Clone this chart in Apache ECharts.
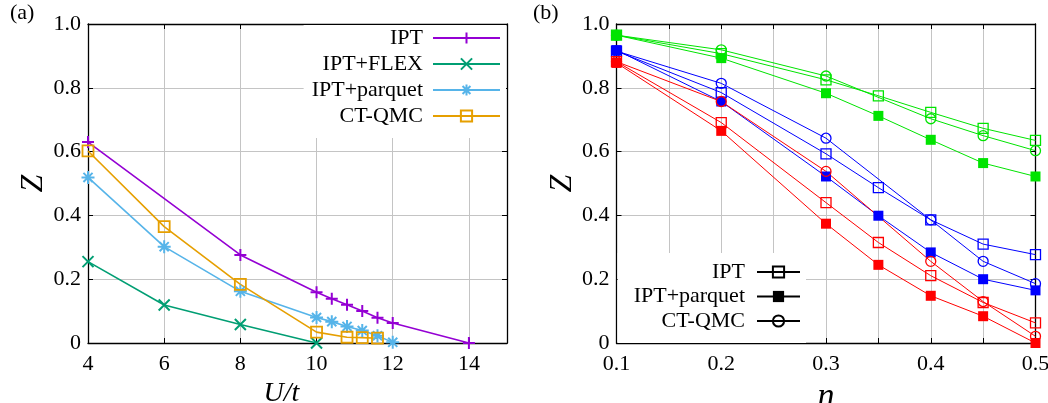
<!DOCTYPE html>
<html>
<head>
<meta charset="utf-8">
<script src="https://cdn.jsdelivr.net/npm/echarts@6/dist/echarts.min.js"></script>
<style>
html, body { margin: 0; padding: 0; background: #fff; }
#chart { width: 1048px; height: 403px; }
</style>
</head>
<body>
<div id="chart"></div>
<script>
// ---- Panel (a): Z versus U/t ----
const uIPT = [4, 8, 10, 10.4, 10.8, 11.2, 11.6, 12, 14];
const zIPT = [0.630, 0.276, 0.159, 0.139, 0.120, 0.100, 0.079, 0.063, 0.0];
const uFLEX = [4, 6, 8, 10];
const zFLEX = [0.255, 0.119, 0.058, 0.0];
const uParquet = [4, 6, 8, 10, 10.4, 10.8, 11.2, 11.6, 12];
const zParquet = [0.519, 0.302, 0.162, 0.080, 0.067, 0.052, 0.039, 0.023, 0.002];
const uQMC = [4, 6, 8, 10, 10.8, 11.2, 11.6];
const zQMC = [0.602, 0.365, 0.184, 0.034, 0.018, 0.017, 0.015];

// ---- Panel (b): Z versus filling n, three parameter sets (green, blue, red) ----
const nGrid = [0.1, 0.2, 0.3, 0.35, 0.4, 0.45, 0.5];
const nQMC = [0.1, 0.2, 0.3, 0.4, 0.45, 0.5];
const greenIPT = [0.965, 0.907, 0.825, 0.775, 0.723, 0.673, 0.635];
const greenParquet = [0.965, 0.893, 0.783, 0.712, 0.637, 0.564, 0.522];
const greenQMC = [0.965, 0.919, 0.837, 0.703, 0.650, 0.603];
const blueIPT = [0.915, 0.785, 0.593, 0.487, 0.386, 0.310, 0.277];
const blueParquet = [0.918, 0.757, 0.522, 0.399, 0.284, 0.200, 0.165];
const blueQMC = [0.915, 0.814, 0.642, 0.386, 0.256, 0.186];
const redIPT = [0.882, 0.691, 0.440, 0.315, 0.211, 0.127, 0.063];
const redParquet = [0.878, 0.665, 0.374, 0.245, 0.148, 0.084, 0.0];
const redQMC = [0.882, 0.757, 0.538, 0.256, 0.130, 0.021];

// tick labels
const zTickLabels = ['0', '0.2', '0.4', '0.6', '0.8', '1.0'];
const uTickLabels = ['4', '6', '8', '10', '12', '14'];
const nTickLabels = ['0.1', '0.2', '0.3', '0.4', '0.5'];

const FONT = 'Liberation Serif';
const GRID_COLOR = '#c4c4c4';
const zip = (xs, ys) => xs.map((x, i) => [x, ys[i]]);

const SYM_PLUS = 'path://M0,5L10,5M5,0L5,10';
const SYM_CROSS = 'path://M0,0L10,10M0,10L10,0';
const SYM_STAR = 'path://M0,5L10,5M5,0L5,10M1.5,1.5L8.5,8.5M1.5,8.5L8.5,1.5';

function labelFrom(list, fmt) {
  return function (v) {
    const s = fmt(v);
    return list.indexOf(s) >= 0 ? s : '';
  };
}
const zFmt = labelFrom(zTickLabels, v => (Math.abs(v) < 1e-9 ? '0' : v.toFixed(1)));
const uFmt = labelFrom(uTickLabels, v => String(Math.round(v * 1000) / 1000));
const nFmt = labelFrom(nTickLabels, v => {
  const k = Math.round(v * 100);
  return k % 10 === 0 ? (k / 100).toFixed(1) : '#';
});

function mainAxis(extra) {
  return Object.assign({
    type: 'value',
    axisLine: { show: true, onZero: false, lineStyle: { color: '#000', width: 1.3 } },
    axisTick: { show: true, inside: true, length: 5, lineStyle: { color: '#000', width: 1 } },
    splitLine: { show: true, lineStyle: { color: GRID_COLOR, width: 1 } },
    axisLabel: { color: '#000', fontFamily: FONT, fontSize: 22 }
  }, extra);
}
function mirrorAxis(extra) {
  return Object.assign({
    type: 'value',
    axisLine: { show: true, onZero: false, lineStyle: { color: '#000', width: 1.3 } },
    axisTick: { show: true, inside: true, length: 5, lineStyle: { color: '#000', width: 1 } },
    splitLine: { show: false },
    axisLabel: { show: false }
  }, extra);
}

// open (stroked) marker series
function openLine(name, data, color, symbol, size, lw, sw, xi, yi) {
  return {
    type: 'line', name, data, xAxisIndex: xi, yAxisIndex: yi,
    symbol, symbolSize: size, clip: false, animation: false,
    lineStyle: { color, width: lw },
    itemStyle: { color: 'rgba(0,0,0,0)', borderColor: color, borderWidth: sw },
    emphasis: { disabled: true }
  };
}
// filled marker series
function filledLine(name, data, color, symbol, size, lw, xi, yi) {
  return {
    type: 'line', name, data, xAxisIndex: xi, yAxisIndex: yi,
    symbol, symbolSize: size, clip: false, animation: false,
    lineStyle: { color, width: lw },
    itemStyle: { color, borderWidth: 0 },
    emphasis: { disabled: true }
  };
}

const GREEN = '#00e400', BLUE = '#0000ff', RED = '#ff0000';
const PURPLE = '#9400d3', TEAL = '#009e73', SKY = '#56b4e9', ORANGE = '#e69f00';

const series = [
  openLine('IPT', zip(uIPT, zIPT), PURPLE, SYM_PLUS, 12, 1.6, 2, 0, 0),
  openLine('IPT+FLEX', zip(uFLEX, zFLEX), TEAL, SYM_CROSS, 11, 1.6, 2, 0, 0),
  openLine('IPT+parquet', zip(uParquet, zParquet), SKY, SYM_STAR, 13, 1.6, 2, 0, 0),
  openLine('CT-QMC', zip(uQMC, zQMC), ORANGE, 'rect', 11, 1.6, 1.8, 0, 0),

  openLine('green IPT', zip(nGrid, greenIPT), GREEN, 'rect', 10, 1, 1.3, 2, 2),
  filledLine('green parquet', zip(nGrid, greenParquet), GREEN, 'rect', 10, 1, 2, 2),
  openLine('green QMC', zip(nQMC, greenQMC), GREEN, 'circle', 10, 1, 1.3, 2, 2),
  openLine('blue IPT', zip(nGrid, blueIPT), BLUE, 'rect', 10, 1, 1.3, 2, 2),
  filledLine('blue parquet', zip(nGrid, blueParquet), BLUE, 'rect', 10, 1, 2, 2),
  openLine('blue QMC', zip(nQMC, blueQMC), BLUE, 'circle', 10, 1, 1.3, 2, 2),
  openLine('red IPT', zip(nGrid, redIPT), RED, 'rect', 10, 1, 1.3, 2, 2),
  filledLine('red parquet', zip(nGrid, redParquet), RED, 'rect', 10, 1, 2, 2),
  openLine('red QMC', zip(nQMC, redQMC), RED, 'circle', 10, 1, 1.3, 2, 2),

  // key entries for panel (b), drawn in black
  openLine('b|IPT', [], '#000', 'rect', 11, 1.3, 1.3, 2, 2),
  filledLine('b|IPT+parquet', [], '#000', 'rect', 11, 1.3, 2, 2),
  openLine('b|CT-QMC', [], '#000', 'circle', 11, 1.3, 1.3, 2, 2)
];

const chart = echarts.init(document.getElementById('chart'), null, { renderer: 'canvas' });
chart.setOption({
  backgroundColor: '#fff',
  animation: false,
  textStyle: { fontFamily: FONT },
  grid: [
    { left: 88, right: 541, top: 24, bottom: 60, outerBoundsMode: 'none' },
    { left: 616.5, right: 12.5, top: 24, bottom: 60, outerBoundsMode: 'none' }
  ],
  xAxis: [
    mainAxis({
      gridIndex: 0, position: 'bottom', min: 4, max: 15, interval: 2,
      axisLabel: { color: '#000', fontFamily: FONT, fontSize: 22, margin: 10, formatter: uFmt },
      name: 'U/t', nameLocation: 'middle', nameGap: 24,
      nameTextStyle: { fontFamily: FONT, fontStyle: 'italic', fontSize: 28, color: '#000', padding: [0, 32, 0, 0] }
    }),
    mirrorAxis({ gridIndex: 0, position: 'top', min: 4, max: 15, interval: 2 }),
    mainAxis({
      gridIndex: 1, position: 'bottom', min: 0.1, max: 0.5, interval: 0.05,
      axisLabel: { color: '#000', fontFamily: FONT, fontSize: 22, margin: 10, formatter: nFmt },
      name: 'n', nameLocation: 'middle', nameGap: 23,
      nameTextStyle: { fontFamily: FONT, fontStyle: 'italic', fontSize: 34, color: '#000' }
    }),
    mirrorAxis({ gridIndex: 1, position: 'top', min: 0.1, max: 0.5, interval: 0.05 })
  ],
  yAxis: [
    mainAxis({
      gridIndex: 0, position: 'left', min: 0, max: 1, interval: 0.2,
      axisLabel: { color: '#000', fontFamily: FONT, fontSize: 22, margin: 7, formatter: zFmt },
      name: 'Z', nameLocation: 'middle', nameGap: 38,
      nameTextStyle: { fontFamily: FONT, fontStyle: 'italic', fontSize: 32, color: '#000' }
    }),
    mirrorAxis({ gridIndex: 0, position: 'right', min: 0, max: 1, interval: 0.2 }),
    mainAxis({
      gridIndex: 1, position: 'left', min: 0, max: 1, interval: 0.2,
      axisLabel: { color: '#000', fontFamily: FONT, fontSize: 22, margin: 7, formatter: zFmt },
      name: 'Z', nameLocation: 'middle', nameGap: 38,
      nameTextStyle: { fontFamily: FONT, fontStyle: 'italic', fontSize: 32, color: '#000' }
    }),
    mirrorAxis({ gridIndex: 1, position: 'right', min: 0, max: 1, interval: 0.2 })
  ],
  legend: [
    {
      data: ['IPT', 'IPT+FLEX', 'IPT+parquet', 'CT-QMC'],
      orient: 'vertical', align: 'right', right: 542, top: 25,
      itemWidth: 67, itemHeight: 14, itemGap: 4,
      padding: [2, 5, 11, 8], backgroundColor: '#fff',
      selectedMode: false,
      textStyle: { fontFamily: FONT, fontSize: 22, color: '#000', padding: [0, 5, 0, 0] }
    },
    {
      data: ['b|IPT', 'b|IPT+parquet', 'b|CT-QMC'],
      formatter: name => name.replace('b|', ''),
      orient: 'vertical', align: 'right', right: 242, top: 253,
      itemWidth: 43, itemHeight: 14, itemGap: 2.5,
      padding: [8, 5, 11, 16], backgroundColor: '#fff',
      selectedMode: false,
      textStyle: { fontFamily: FONT, fontSize: 22, color: '#000', padding: [0, 7, 0, 0] }
    }
  ],
  graphic: [
    { type: 'text', left: 10, top: 2, style: { text: '(a)', fontFamily: FONT, fontSize: 22, fill: '#000' } },
    { type: 'text', left: 533, top: 2, style: { text: '(b)', fontFamily: FONT, fontSize: 22, fill: '#000' } }
  ],
  series
});
</script>
</body>
</html>
